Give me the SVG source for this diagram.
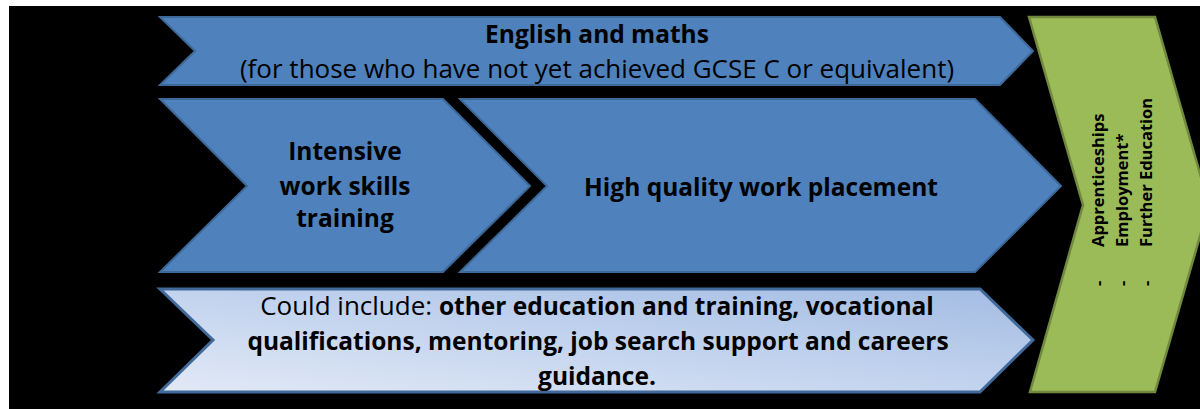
<svg xmlns="http://www.w3.org/2000/svg" width="1200" height="409" viewBox="0 0 1200 409">
  <defs>
    <linearGradient id="lightFill" x1="1" y1="0" x2="0" y2="1">
      <stop offset="0" stop-color="#A3BCE3"/>
      <stop offset="0.5" stop-color="#C2D3EE"/>
      <stop offset="1" stop-color="#E2E9F6"/>
    </linearGradient>
    <style>
      .blue { fill: #4F81BD; stroke: #3D6998; stroke-width: 2; stroke-linejoin: miter; }
      .light { fill: url(#lightFill); stroke: #41699A; stroke-width: 3; }
      .green { fill: #9BBB59; stroke: #71893F; stroke-width: 2.5; }
      text { font-family: "Open Sans", "Liberation Sans", sans-serif; fill: #000; }
      .lbl { font-size: 24.5px; text-anchor: middle; }
      .reg { font-size: 26px; font-weight: normal; }
      .b { font-weight: bold; }
      .bs { font-weight: bold; font-size: 24.5px; }
      .side { font-size: 16.5px; font-weight: bold; }
    </style>
  </defs>

  <!-- page backdrop -->
  <rect x="0" y="0" width="1200" height="409" fill="#FFFFFF"/>
  <rect x="9" y="6" width="1191" height="403" fill="#000000"/>

  <!-- English and maths band -->
  <g id="english-maths">
    <polygon class="blue" points="160,17 1000,17 1033,51 1000,85 160,85 195,51"/>
    <text class="lbl b" x="597" y="43">English and maths</text>
    <text class="lbl reg" x="597" y="78">(for those who have not yet achieved GCSE C or equivalent)</text>
  </g>

  <!-- Intensive work skills training -->
  <g id="work-skills">
    <polygon class="blue" points="160,99 443,99 530,186 443,272 160,272 247,186"/>
    <text class="lbl b" x="345" y="160">Intensive</text>
    <text class="lbl b" x="345" y="195">work skills</text>
    <text class="lbl b" x="345" y="227">training</text>
  </g>

  <!-- High quality work placement -->
  <g id="work-placement">
    <polygon class="blue" points="460,99 975,99 1061,186 975,272 460,272 547,186"/>
    <text class="lbl b" x="761" y="196">High quality work placement</text>
  </g>

  <!-- Optional extras band -->
  <g id="could-include">
    <polygon class="light" points="160,289 980,289 1033,340 980,392 160,392 213,340"/>
    <text class="lbl reg" x="597" y="315">Could include: <tspan class="bs">other education and training, vocational</tspan></text>
    <text class="lbl b" x="598" y="350">qualifications, mentoring, job search support and careers</text>
    <text class="lbl b" x="597" y="385">guidance.</text>
  </g>

  <!-- Destinations -->
  <g id="destinations">
    <polygon class="green" points="1029,17 1155,17 1209,205 1155,392 1030,392 1083,205"/>
    <g transform="rotate(-90)">
      <text class="side" x="-286" y="1104">-</text>
      <text class="side" x="-247" y="1104">Apprenticeships</text>
      <text class="side" x="-286" y="1128">-</text>
      <text class="side" x="-247" y="1128">Employment*</text>
      <text class="side" x="-286" y="1152">-</text>
      <text class="side" x="-247" y="1152">Further Education</text>
    </g>
  </g>
</svg>
